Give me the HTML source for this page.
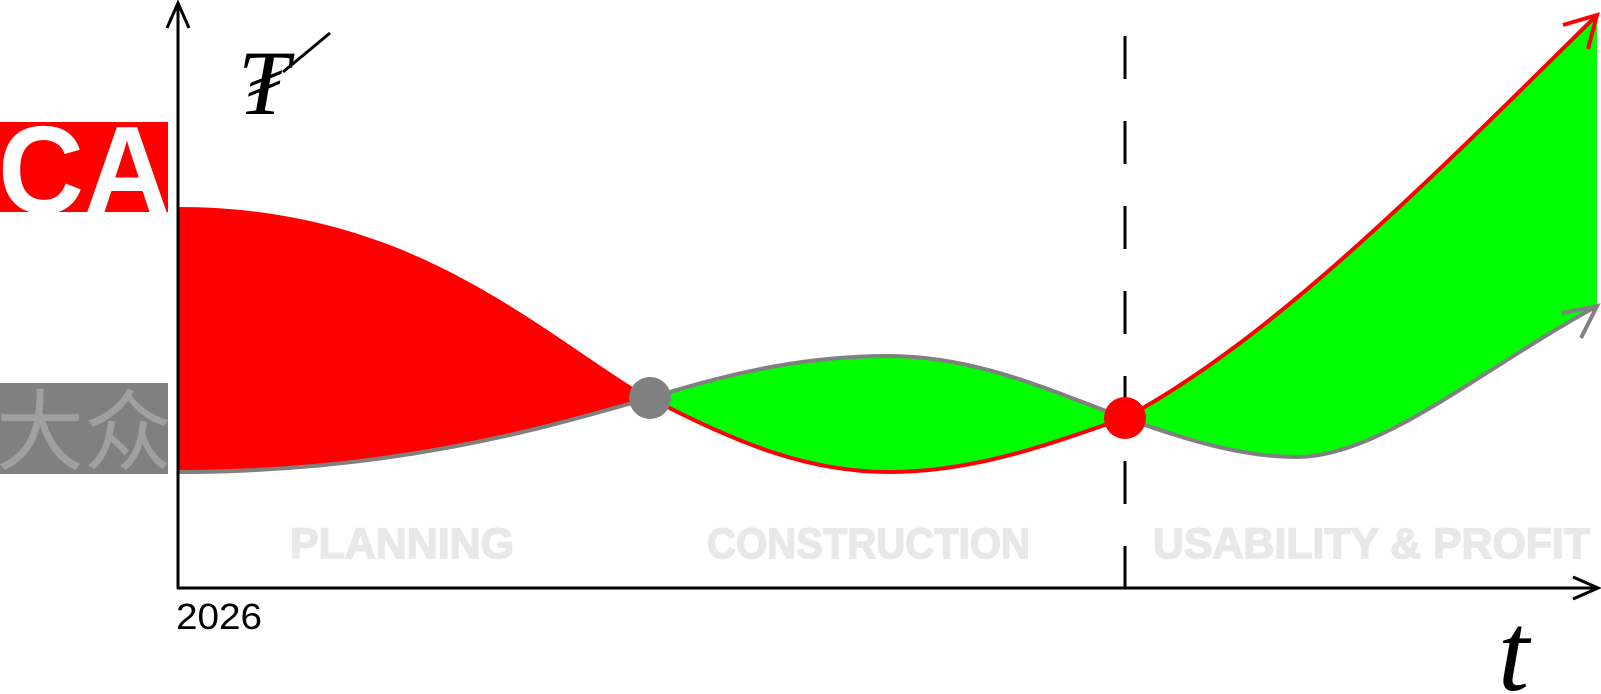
<!DOCTYPE html>
<html><head><meta charset="utf-8"><style>
html,body{margin:0;padding:0;background:#fff;}
svg{display:block;}
</style></head><body>
<svg width="1601" height="694" viewBox="0 0 1601 694" xmlns="http://www.w3.org/2000/svg">
<rect width="1601" height="694" fill="#fff"/>
<rect x="0" y="122" width="168" height="90" fill="#ff0000"/>
<svg x="0" y="122" width="168" height="90" overflow="hidden">
<text x="-2" y="91" font-family="Liberation Sans, sans-serif" font-weight="bold" font-size="124" fill="#fff" textLength="172" lengthAdjust="spacingAndGlyphs">CA</text>
</svg>
<rect x="0" y="383" width="168" height="91" fill="#808080"/>
<svg x="0" y="383" width="168" height="91" overflow="hidden">
<text x="-4" y="80" font-family="Liberation Sans, 'Noto Sans CJK SC', sans-serif" font-size="88" fill="#a0a0a0">大众</text>
</svg>
<path d="M178,207 C410,207 530,325 650,398 C570,420 410,472 178,472 Z" fill="#ff0000"/>
<path d="M650,398 C740,370 810,356 889,356 C980,356 1060,395 1125,418 C1060,440 980,472 889,472 C810,472 740,445 650,398 Z" fill="#00ff00"/>
<path d="M1125,418 C1270,340 1420,190 1597,15 L1597,306 C1480,370 1380,457 1297,457 C1250,457 1200,445 1125,418 Z" fill="#00ff00"/>
<g fill="none" stroke-width="4">
<path d="M178,472 C410,472 570,420 650,398 C740,370 810,356 889,356 C980,356 1060,395 1125,418 C1200,445 1250,457 1297,457 C1380,457 1480,370 1597,306" stroke="#808080"/>
<path d="M650,398 C740,445 810,472 889,472 C980,472 1060,440 1125,418 C1270,340 1420,190 1597,15" stroke="#ff0000"/>
<path d="M1563,25 L1597,15 L1588,49" stroke="#ff0000"/>
<path d="M1562,313 L1597,306 L1581,338" stroke="#808080"/>
</g>
<line x1="1125" y1="36" x2="1125" y2="588" stroke="#000" stroke-width="3" stroke-dasharray="43 42"/>
<g fill="none" stroke="#000" stroke-width="3">
<line x1="178" y1="3" x2="178" y2="589"/>
<line x1="177" y1="588" x2="1598" y2="588"/>
<path d="M167,28 L178,3 L189,28"/>
<path d="M1573,577 L1598,588 L1573,599"/>
</g>
<circle cx="650" cy="398" r="21" fill="#808080"/>
<circle cx="1125" cy="418" r="21" fill="#ff0000"/>
<g font-family="Liberation Sans, sans-serif" font-weight="bold" font-size="43" fill="#e8e8e8" stroke="#e8e8e8" stroke-width="1.5">
<text x="290" y="558" textLength="224" lengthAdjust="spacingAndGlyphs">PLANNING</text>
<text x="707" y="558" textLength="323" lengthAdjust="spacingAndGlyphs">CONSTRUCTION</text>
<text x="1153" y="558" textLength="437" lengthAdjust="spacingAndGlyphs">USABILITY &amp; PROFIT</text>
</g>
<text x="176" y="629" font-family="Liberation Sans, sans-serif" font-size="36" fill="#000" textLength="86" lengthAdjust="spacingAndGlyphs">2026</text>
<text x="1498" y="690" font-family="Liberation Serif, serif" font-style="italic" font-size="112" fill="#000">t</text>
<text x="238" y="114" font-family="DejaVu Serif, Liberation Serif, serif" font-style="italic" font-size="92" fill="#000">₮</text>
<line x1="283" y1="72" x2="330" y2="33" stroke="#000" stroke-width="3"/>
</svg>
</body></html>
